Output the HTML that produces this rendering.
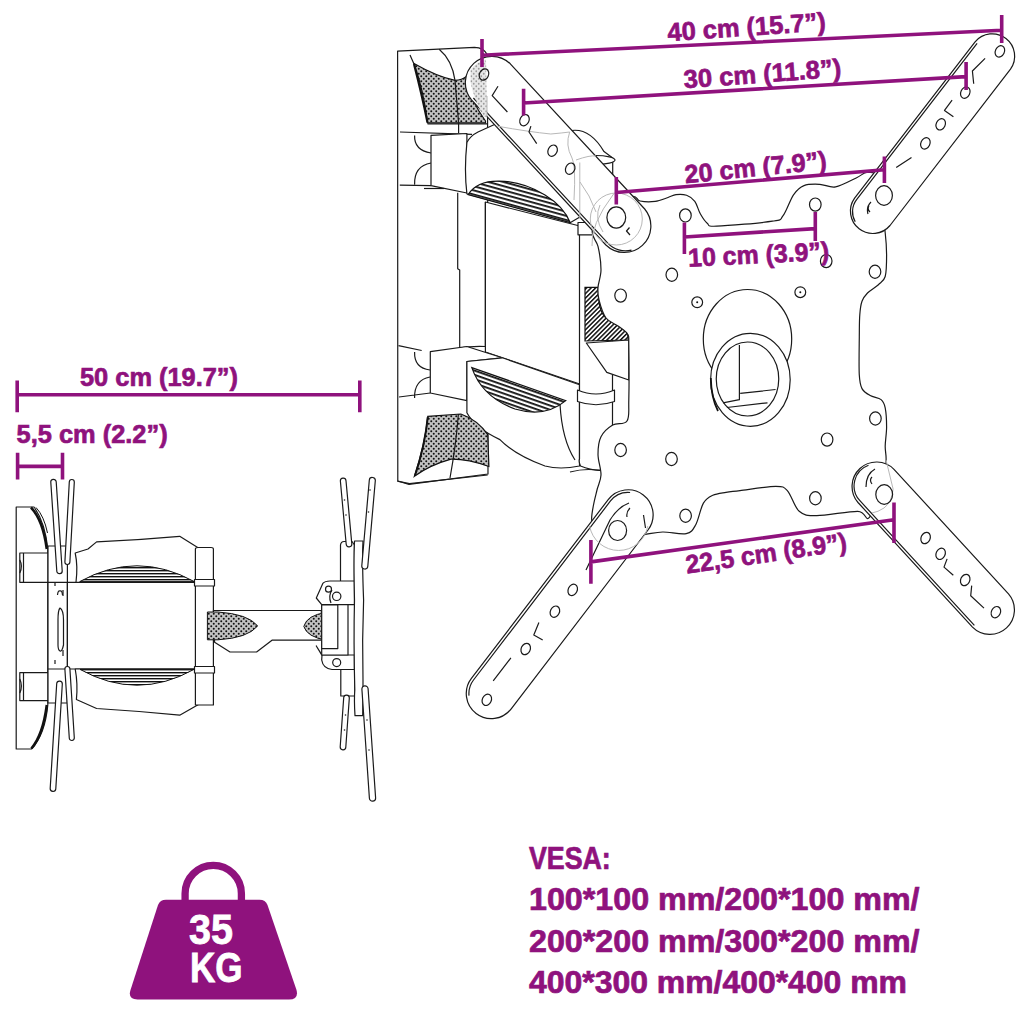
<!DOCTYPE html>
<html><head><meta charset="utf-8">
<style>
html,body{margin:0;padding:0;background:#fff;width:1024px;height:1024px;overflow:hidden}
svg{display:block}
.t{font-family:"Liberation Sans",sans-serif;font-weight:bold;fill:#8F127D;stroke:#8F127D;stroke-width:0.7}
.d{stroke:#8F127D;stroke-width:3.6;fill:none}
.k{stroke:#1a1a1a;stroke-width:1.2;fill:#fff;stroke-linejoin:round}
.kn{stroke:#1a1a1a;stroke-width:1.2;fill:none;stroke-linejoin:round}
.g{stroke:#b8b8b8;stroke-width:1;fill:none}
</style></head>
<body>
<svg width="1024" height="1024" viewBox="0 0 1024 1024">
<defs>
<pattern id="hz" width="4" height="3" patternUnits="userSpaceOnUse"><rect width="4" height="3" fill="#fff"/><rect width="4" height="1.4" fill="#111"/></pattern>
<pattern id="dg" width="3.2" height="3.2" patternUnits="userSpaceOnUse" patternTransform="rotate(45)"><rect width="3.2" height="3.2" fill="#fff"/><rect width="1.5" height="3.2" fill="#111"/></pattern>
<pattern id="mesh" width="5" height="5" patternUnits="userSpaceOnUse"><rect width="5" height="5" fill="#c2c2c2"/><circle cx="1.25" cy="1.25" r="1.0" fill="#111"/><circle cx="3.75" cy="3.75" r="1.0" fill="#111"/></pattern>
<pattern id="meshl" width="5" height="5" patternUnits="userSpaceOnUse"><rect width="5" height="5" fill="#e6e6e6"/><circle cx="1.25" cy="1.25" r="0.9" fill="#9a9a9a"/><circle cx="3.75" cy="3.75" r="0.9" fill="#9a9a9a"/></pattern>
<pattern id="hzd" width="6" height="4" patternUnits="userSpaceOnUse" patternTransform="rotate(15.4) translate(0,0.8)"><rect width="6" height="4" fill="#fff"/><rect width="6" height="1.8" fill="#111"/></pattern>
<pattern id="hzd2" width="6" height="4" patternUnits="userSpaceOnUse" patternTransform="rotate(19.3)"><rect width="6" height="4" fill="#fff"/><rect width="6" height="1.8" fill="#111"/></pattern>
</defs>


<!-- SIDE -->
<path class="k" d="M16.2,507 H34 Q45,522 47.8,549 V705 Q45,735 31.4,749 H16.2 Z"/>
<path d="M31,507.5 Q43,520 46.8,549" stroke="#111" stroke-width="2.6" fill="none"/>
<path d="M36,507.5 Q44,516 47.5,533" stroke="#111" stroke-width="1" fill="none"/>
<path d="M31.4,748.5 Q43,735 46.8,705" stroke="#111" stroke-width="2.6" fill="none"/>
<path class="k" d="M19.8,553 H48 V582.3 H19.8 Z"/>
<path class="kn" d="M23.5,553 V582.3 M19.8,560 Q23,566 19.8,573"/>
<path class="k" d="M19.8,672.6 H48 V700.6 H19.8 Z"/>
<path class="kn" d="M23.5,672.6 V700.6 M19.8,679 Q23,686 19.8,693"/>
<path class="k" d="M48,546 H67.4 V703 H48 Z"/>
<path class="kn" d="M60,608 Q63.5,610 63.5,620 V645 Q62,652 60,651 Q58,650 58,645 V620 Q58,610 60,608 Z"/>
<path class="kn" d="M57.5,595 Q58,590 60,591 Q62,590 62.5,595" stroke-width="0.9"/>
<path class="kn" d="M55,582 V586 M55,660 V664 M63,590 V596 M63,650 V656" stroke-width="1"/>
<path class="kn" d="M48,582.3 H67.4 M48,669 H67.4" stroke="#777"/>
<path class="kn" d="M67.4,582.3 H196 M67.4,669 H196"/>
<path class="kn" d="M67.4,582.3 V669" stroke="#888"/>
<path class="k" d="M75.2,553 Q78,566 76,582.3 H196.5 Q195,566 203.3,551 L179.7,536.3 Q138,540 96.6,541.9 L88,549 Z"/>
<path d="M79.7,581.6 Q137,550 194.3,581.6 Z" fill="url(#hz)" stroke="#111" stroke-width="1"/>
<path class="k" d="M75.2,669 Q78,684 76.4,699.5 L96.6,708.5 Q138,711 179.7,715.2 L203.3,701.8 Q195,686 196.5,669 Z"/>
<path d="M80,669.4 Q137,701 194,669.4 Z" fill="url(#hz)" stroke="#111" stroke-width="1"/>
<path class="k" d="M195.4,549 Q195.4,547.5 198,547.5 H211 Q213.4,547.5 213.4,549 V705 H195.4 Z"/>
<path class="k" d="M194.5,579.5 H214.5 V586 H194.5 Z"/>
<path class="k" d="M194.5,666.5 H214.5 V673 H194.5 Z"/>
<path class="k" d="M213.4,610.5 H321.3 V640.2 H272 L256.6,652 H230 L214.6,642.3 Z"/>
<path d="M207.4,612 H218 Q248,614 257.7,625.9 Q248,638 218,639.8 H207.4 Z" fill="url(#mesh)" stroke="#111" stroke-width="1"/>
<path d="M326.4,612.5 V640.2 Q307,637 303.8,626.4 Q307,615 326.4,612.5 Z" fill="url(#mesh)" stroke="#111" stroke-width="1"/>
<path class="k" d="M340.5,545 Q341,541.5 344,541.5 H352 L354.5,545 V582 H340.5 Z"/>
<path class="k" d="M316.3,598 L322.8,583.4 Q325,581 330,581 H354.5 V604.6 H321.7 Z"/>
<circle class="k" cx="336.7" cy="596.3" r="4.2"/><path class="kn" d="M331,603 Q328,596 332,590" stroke-width="1"/>
<circle class="kn" cx="328.5" cy="589.2" r="3"/>
<path class="k" d="M316.3,646 L322,655 L321.7,660 Q323,668.5 332,669.5 H354.5 V655 H321.7 Z"/>
<circle class="k" cx="336.7" cy="662.6" r="4"/>
<path class="k" d="M321.7,604.6 H348 V655 H321.7 Z"/>
<path class="k" d="M321.7,605 H337.8 V648.6 H321.7 Z"/>
<path class="k" d="M340.8,669.5 H354.8 V696 H340.8 Z"/>
<path class="k" d="M354.5,541 Q356,541 358,541 H363 Q362,560 363.6,600 Q362,640 363,680 Q363,700 362.7,715.6 H355 Q354,700 354.8,690 Q353.5,640 354.5,600 Q353.5,560 354.5,541 Z"/>
<path class="k" d="M340.4,481.3 L346.2,544.3 A2.8,2.8 0 0 0 351.8,543.7 L346.0,480.7 A2.8,2.8 0 0 0 340.4,481.3 Z"/>
<path class="k" d="M369.3,480.2 L361.8,565.7 A3.0,3.0 0 0 0 367.8,566.3 L375.3,480.8 A3.0,3.0 0 0 0 369.3,480.2 Z"/>
<path class="k" d="M343.7,697.8 L340.2,746.8 A2.8,2.8 0 0 0 345.8,747.2 L349.3,698.2 A2.8,2.8 0 0 0 343.7,697.8 Z"/>
<path class="k" d="M361.9,689.2 L369.4,798.2 A3.1,3.1 0 0 0 375.6,797.8 L368.1,688.8 A3.1,3.1 0 0 0 361.9,689.2 Z"/>
<path class="k" d="M50.8,482.2 L56.8,571.2 A2.7,2.7 0 0 0 62.2,570.8 L56.2,481.8 A2.7,2.7 0 0 0 50.8,482.2 Z"/>
<path class="k" d="M69.3,481.9 L64.9,561.9 A2.5,2.5 0 0 0 69.9,562.1 L74.3,482.1 A2.5,2.5 0 0 0 69.3,481.9 Z"/>
<path class="k" d="M56.7,683.8 L50.2,788.3 A2.8,2.8 0 0 0 55.8,788.7 L62.3,684.2 A2.8,2.8 0 0 0 56.7,683.8 Z"/>
<path class="k" d="M64.9,669.2 L69.3,738.2 A2.5,2.5 0 0 0 74.3,737.8 L69.9,668.8 A2.5,2.5 0 0 0 64.9,669.2 Z"/>
<circle cx="344.5" cy="500" r="0.8" fill="#222"/><circle cx="346" cy="515" r="0.8" fill="#222"/><circle cx="370" cy="490" r="0.8" fill="#222"/><circle cx="368.5" cy="512" r="0.8" fill="#222"/>
<circle cx="345.5" cy="715" r="0.8" fill="#222"/><circle cx="344.5" cy="730" r="0.8" fill="#222"/><circle cx="367" cy="720" r="0.8" fill="#222"/><circle cx="369" cy="750" r="0.8" fill="#222"/>
<!-- FRONT -->
<path class="k" d="M397.6,51.2 L474.4,47.3 Q484,47.5 487.5,55 L488,474 L409,484.3 L397.8,481 Z"/>
<path d="M414,63.4 Q436,76 455,80.4 Q462,80 466.4,76.5 Q470,100 485.5,121 L485.5,122.8 L427.5,122.8 Q424,92 414,63.4 Z" fill="url(#mesh)" stroke="#111" stroke-width="1.2"/>
<path d="M414,64 Q422,95 427.5,122.5" stroke="#111" stroke-width="2.2" fill="none"/>
<path class="kn" d="M455,80.4 L458.6,122.8 M439.2,49.3 Q452,60 455,80.4 M410,55 L414,64"/>
<path class="kn" d="M400,132 L472,134.3 M427.5,123.8 H487 M458.6,122.8 V133"/>
<path class="kn" d="M399.8,185.2 L431,185.6 M414.6,135.4 Q414,150 431,153 M414.6,184.5 Q414,166 431,163"/>
<path class="k" d="M431,135.4 L466.9,133.5 L466.9,193 L431,185.6 Z"/>
<path class="kn" d="M424,188.5 H444"/>
<path class="k" d="M466.9,142.6 Q470,136 478,132 L500,122 L585,214 L570.5,222.5 L466.9,193.8 Q464,170 466.9,142.6 Z"/>
<path d="M468.2,194.6 C474,185 486,181 498.7,181.1 C515,181 532,187 545,195 C558,203 566,212 570.2,222.7 Z" fill="url(#hzd)" stroke="#111" stroke-width="1.2"/>
<path class="kn" d="M457.7,192.8 V268.7 L459.7,270 V348 M485.4,202 V346.5"/>
<path class="kn" d="M398.5,345.6 L421.7,350.5 M459.7,348 Q470,346 485.4,346.5"/>
<path class="k" d="M485.4,202 L579.7,226 V384 L485.4,352 Z"/>
<path class="k" d="M430.3,351.7 L466.9,346.5 L502.3,357.8 L466.9,361.5 V400.6 L430.3,393 Z"/>
<path class="kn" d="M414.6,352 Q414,368 430,370 M414.6,398 Q414,380 430,377 M399,397 L430.3,393"/>
<path class="k" d="M466.9,361.5 L502.3,357.8 L579.5,384.7 V466 Q560,470 545,466 Q515,455 499.9,439.6 Q475,428 466.9,412.8 Z"/>
<path d="M471.8,367.6 L565.8,400.6 Q545,418 515,409 Q482,397 471.8,367.6 Z" fill="url(#hzd2)" stroke="#111" stroke-width="1.2"/>
<path class="kn" d="M560,404 Q562,440 575,460"/>
<path d="M427.8,416.4 L460.8,414 Q478,420 487.7,434.7 L488.9,466.5 Q468,459 451,459.2 Q430,465 414.4,476.3 Q425,445 427.8,416.4 Z" fill="url(#mesh)" stroke="#111" stroke-width="1.2"/>
<path d="M427.8,417 Q425,445 415,475.8" stroke="#111" stroke-width="2" fill="none"/>
<path class="kn" d="M458.4,414 Q456,445 450,478 M397.3,481.1 L409.5,483.6 L487.7,475"/>
<path class="k" d="M579.5,226 H612.5 V462 L600,470.4 Q590,470 580.5,466 Q578.5,462 579.5,459 Z"/>
<path class="k" d="M578,222.5 H596 V234.8 H578 Z"/>
<path class="k" d="M571.5,130.5 Q590,128 604,151.6 L612.7,158 V200 L579,200 Z" />
<ellipse class="k" cx="595.5" cy="160" rx="19.5" ry="4.5"/>
<path d="M585,287.4 H598 C598.5,300 599,312 606,318 C614,323 624,326 627.5,334 L628.5,340 L585,341 Z" fill="url(#dg)" stroke="#111" stroke-width="1.2"/>
<path class="k" d="M586.3,343 L628.8,340 V380 L606.8,372.4 Z"/>
<path class="k" d="M577.5,390 Q596,398 614.5,390 V401.5 Q596,408 577.5,401.5 Z"/>
<path class="kn" d="M570,472 Q585,468 600,470.4"/>
<path class="k" d="M631.3,196.5 C638.0,195.0 636.0,200.2 640.0,201.0 C644.0,201.8 650.5,202.0 655.2,201.4 C659.9,200.8 664.5,198.6 668.0,197.5 C671.5,196.4 672.9,195.0 676.0,194.6 C679.1,194.2 683.5,194.2 686.6,195.3 C689.7,196.4 692.5,198.3 694.8,201.4 C697.1,204.5 698.2,210.1 700.3,213.8 C702.4,217.4 704.5,221.2 707.2,223.3 C709.9,225.4 705.8,226.5 716.7,226.2 C727.6,225.8 761.4,222.9 772.4,221.2 C783.4,219.5 779.4,220.3 782.9,215.9 C786.4,211.5 790.0,199.9 793.5,194.8 C797.0,189.8 799.6,187.3 804.0,185.6 C808.4,183.8 814.5,184.1 819.8,184.3 C825.1,184.5 829.5,188.0 835.6,186.9 C841.8,185.8 851.4,180.1 856.7,177.7 C862.0,175.3 863.8,172.0 867.3,172.4 C870.8,172.8 875.0,169.9 878.0,180.0 C881.0,190.1 883.8,220.4 885.2,232.8 C886.6,245.2 886.6,247.4 886.6,254.7 C886.6,262.0 886.6,271.5 885.2,276.5 C883.8,281.5 881.4,281.9 878.4,284.7 C875.4,287.4 870.2,290.2 867.5,293.0 C864.8,295.8 863.3,297.6 862.0,301.2 C860.7,304.8 860.2,308.9 859.8,314.8 C859.3,320.7 859.4,326.7 859.3,336.7 C859.2,346.7 858.8,366.4 859.3,375.0 C859.8,383.6 860.2,385.2 862.0,388.6 C863.8,392.0 867.0,393.7 870.2,395.5 C873.4,397.3 878.6,397.6 881.1,399.6 C883.6,401.7 884.3,403.2 885.2,407.8 C886.1,412.4 886.6,420.5 886.6,426.9 C886.6,433.3 885.3,440.5 885.2,446.0 C885.1,451.5 886.3,454.0 886.1,459.7 C885.9,465.4 886.8,470.4 884.0,480.0 C881.2,489.6 874.0,512.0 869.6,517.2 C865.2,522.4 866.6,511.6 857.8,511.3 C849.0,511.1 826.6,515.7 816.8,515.7 C807.0,515.7 804.1,515.5 799.2,511.3 C794.3,507.1 791.4,495.0 787.5,490.8 C783.6,486.6 783.7,486.4 775.8,486.4 C767.9,486.4 748.3,489.6 740.0,490.6 C731.7,491.6 730.5,491.5 726.0,492.3 C721.5,493.1 716.6,493.5 712.8,495.3 C709.0,497.1 706.3,498.2 703.4,503.1 C700.5,508.1 698.5,519.9 695.6,525.0 C692.7,530.1 691.7,532.4 686.2,533.6 C680.8,534.8 669.6,531.9 662.8,532.0 C656.0,532.1 651.4,533.6 645.6,534.4 C639.8,535.2 636.3,537.4 628.0,537.0 C619.7,536.6 602.0,534.8 596.0,532.0 C590.0,529.2 592.1,524.5 591.7,520.0 C591.3,515.5 592.6,510.0 593.5,505.0 C594.4,500.0 595.8,495.0 597.0,490.0 C598.2,485.0 600.8,480.9 601.0,475.0 C601.2,469.1 598.0,460.8 598.0,454.4 C598.0,448.0 598.5,441.7 601.0,436.8 C603.5,431.9 608.4,427.7 612.7,425.1 C617.0,422.5 624.3,425.2 627.0,421.0 C629.7,416.8 628.5,412.7 628.8,400.0 C629.1,387.3 629.0,356.0 628.8,345.0 C628.6,334.0 629.3,337.2 627.5,334.0 C625.7,330.8 621.6,328.7 618.0,326.0 C614.4,323.3 609.2,322.3 606.0,318.0 C602.8,313.7 600.3,305.1 599.0,300.0 C597.7,294.9 597.7,292.4 598.0,287.4 C598.3,282.4 601.0,276.6 601.0,269.8 C601.0,263.0 599.5,252.8 598.0,246.4 C596.5,240.1 591.9,237.8 592.2,231.7 C592.5,225.6 593.5,215.9 600.0,210.0 C606.5,204.1 624.6,198.0 631.3,196.5 Z"/>
<ellipse class="kn" cx="685.4" cy="215.4" rx="5.8" ry="6.6"/>
<ellipse class="kn" cx="815.3" cy="204.6" rx="5.8" ry="6.6"/>
<ellipse class="kn" cx="671.8" cy="274.8" rx="5.8" ry="6.6"/>
<ellipse class="kn" cx="620.6" cy="295.6" rx="5.8" ry="6.6"/>
<ellipse class="kn" cx="826.2" cy="261.1" rx="5.8" ry="6.6"/>
<ellipse class="kn" cx="875" cy="271.7" rx="5.8" ry="6.6"/>
<ellipse class="kn" cx="620.6" cy="450" rx="5.8" ry="6.6"/>
<ellipse class="kn" cx="671.5" cy="459" rx="5.8" ry="6.6"/>
<ellipse class="kn" cx="827.1" cy="439.6" rx="5.8" ry="6.6"/>
<ellipse class="kn" cx="875.4" cy="418.5" rx="5.8" ry="6.6"/>
<ellipse class="kn" cx="685.6" cy="515.7" rx="5.8" ry="6.6"/>
<ellipse class="kn" cx="815.4" cy="498.2" rx="5.8" ry="6.6"/>
<circle class="kn" cx="697.2" cy="302.3" r="5.4"/><circle cx="697.2" cy="302.3" r="1" fill="#111"/>
<circle class="kn" cx="800.3" cy="292.2" r="5.4"/><circle cx="800.3" cy="292.2" r="1" fill="#111"/>
<ellipse class="kn" cx="747.5" cy="339" rx="44.2" ry="49.5"/>
<ellipse class="k" cx="750.4" cy="379.8" rx="39.8" ry="46.5" stroke-width="1.4"/>
<ellipse class="k" cx="747.5" cy="379" rx="31.25" ry="37" stroke-width="1.4"/>
<path class="kn" d="M739.4,345 V399.7 L723,402.8 M740.2,393.4 L775.6,389.5 M726.9,407.5 L767.5,402.8"/>
<path d="M710.8,378 Q711.2,398 718,411" stroke="#111" stroke-width="1.8" fill="none"/>
<path class="k" d="M471.5,99.8 L605.9,245.0 A26.5,26.5 0 0 0 644.7,209.0 L510.3,63.8 A26.5,26.5 0 0 0 471.5,99.8 Z" stroke-width="1.05" stroke="#3a3a3a"/>
<path class="kn" d="M473.4,98.0 L607.8,243.2 A23.9,23.9 0 0 0 631.5,250.1" stroke-width="0.95" stroke="#3a3a3a"/>
<path class="k" d="M975.1,41.8 L854.6,198.1 A22.4,22.4 0 0 0 890.0,225.5 L1010.5,69.2 A22.4,22.4 0 0 0 975.1,41.8 Z" stroke-width="1.05" stroke="#3a3a3a"/>
<path class="kn" d="M977.1,43.4 L856.6,199.7 A19.8,19.8 0 0 0 855.2,221.7" stroke-width="0.95" stroke="#3a3a3a"/>
<path class="k" d="M1008.5,593.9 L894.0,469.3 A24.5,24.5 0 0 0 858.0,502.5 L972.5,627.1 A24.5,24.5 0 0 0 1008.5,593.9 Z" stroke-width="1.05" stroke="#3a3a3a"/>
<path class="kn" d="M974.4,625.3 L859.9,500.7 A21.9,21.9 0 0 1 868.5,465.3" stroke-width="0.95" stroke="#3a3a3a"/>
<path class="k" d="M511.2,708.8 L648.0,530.0 A25,25 0 0 0 608.2,499.6 L471.4,678.4 A25,25 0 0 0 511.2,708.8 Z" stroke-width="1.05" stroke="#3a3a3a"/>
<path class="kn" d="M469.0,695.6 A22.4,22.4 0 0 1 473.5,680.0 L610.3,501.2 A22.4,22.4 0 0 1 630.1,492.5" stroke-width="0.95" stroke="#3a3a3a"/>
<path class="kn" d="M586,570 Q598,545 610,520 Q618,507 629,503" stroke-width="1"/>
<path class="g" d="M589.65,526.1 A29.5,29.5 0 0 0 647.75,526.1 M886.1,460.2 L893.1,489 Q892,502 884,508 Q878,512 872,513"/>
<path d="M470.5,70 Q476,62 486,59.5 L487,117 L484,117 Q474,100 470.5,82 Z" fill="url(#meshl)"/>
<path class="g" d="M496.9,126.1 Q530,132 550.8,134 Q562,133 569.7,132 M569.7,132 Q565,145 572,158 Q576,165 574,200 M579.8,162.5 V218.8 M580,182 Q590,195 596,212 M576,160 Q590,155 596,156 M592,246 Q590,225 613.6,194"/>
<path class="g" d="M603,232 Q594,218 600,205 M487,96 V116"/>
<path class="kn" d="M498.0,86.2 L492.2,95.6 L507.4,112.0" stroke-width="1"/>
<path class="kn" d="M530.9,126.1 L529.0,132.0 L536.7,143.7" stroke-width="1"/>
<path class="kn" d="M985.1,58.3 L972.4,71.0 L973.7,83.7" stroke-width="1"/>
<path class="kn" d="M952.1,100.2 L944.5,110.4 L953.4,116.7" stroke-width="1"/>
<path class="kn" d="M947.1,558.9 L944.0,567.1 L953.3,575.3" stroke-width="1"/>
<path class="kn" d="M971.7,585.6 L970.7,595.8 L984.0,608.1" stroke-width="1"/>
<path class="kn" d="M538.9,622.4 L533.8,635.0 L542.7,640.1" stroke-width="1"/>
<path class="kn" d="M510.9,657.9 L493.2,680.8 M911.5,157.4 L896.2,167.5" stroke-width="1"/>
<path class="kn" d="M629.5,227.5 L626.5,231 L630,235 M871,202 Q866,207 868,214 M869,206 Q867,209 870,212 M875,469 Q866,474 866,487 M872,477 Q869,480 872,484 M630,508 Q626,512 627,517 M643.5,515 L645.5,528" stroke-width="0.9"/>
<circle class="g" cx="616.3" cy="219" r="26"/>
<ellipse class="kn" cx="616.3" cy="217.5" rx="9.4" ry="10.6" stroke-width="1.3"/>
<ellipse class="kn" cx="884" cy="195.5" rx="8.4" ry="9.8" stroke-width="1.3"/>
<ellipse class="kn" cx="884.2" cy="494.5" rx="8.4" ry="9.8" stroke-width="1.3"/>
<ellipse class="kn" cx="617.6" cy="530.5" rx="9" ry="10" stroke-width="1.3"/>
<ellipse class="kn" cx="484" cy="74.5" rx="4.5" ry="5.9" transform="rotate(25 484 74.5)" stroke="#333"/>
<ellipse class="kn" cx="524.5" cy="120.2" rx="4.5" ry="5.9" transform="rotate(25 524.5 120.2)" stroke="#333"/>
<ellipse class="kn" cx="552.6" cy="150.7" rx="4.5" ry="5.9" transform="rotate(25 552.6 150.7)" stroke="#333"/>
<ellipse class="kn" cx="570.2" cy="168.7" rx="4.5" ry="5.9" transform="rotate(25 570.2 168.7)" stroke="#333"/>
<ellipse class="kn" cx="999.9" cy="51.4" rx="4.5" ry="5.9" transform="rotate(25 999.9 51.4)" stroke="#333"/>
<ellipse class="kn" cx="965.3" cy="92.6" rx="4.5" ry="5.9" transform="rotate(25 965.3 92.6)" stroke="#333"/>
<ellipse class="kn" cx="940.7" cy="124.3" rx="4.5" ry="5.9" transform="rotate(25 940.7 124.3)" stroke="#333"/>
<ellipse class="kn" cx="925.4" cy="143.4" rx="4.5" ry="5.9" transform="rotate(25 925.4 143.4)" stroke="#333"/>
<ellipse class="kn" cx="925.6" cy="538" rx="4.5" ry="5.9" transform="rotate(25 925.6 538)" stroke="#333"/>
<ellipse class="kn" cx="940.6" cy="553.8" rx="4.5" ry="5.9" transform="rotate(25 940.6 553.8)" stroke="#333"/>
<ellipse class="kn" cx="965.2" cy="580" rx="4.5" ry="5.9" transform="rotate(25 965.2 580)" stroke="#333"/>
<ellipse class="kn" cx="995.9" cy="612.2" rx="4.5" ry="5.9" transform="rotate(25 995.9 612.2)" stroke="#333"/>
<ellipse class="kn" cx="572.7" cy="589.9" rx="4.5" ry="5.9" transform="rotate(25 572.7 589.9)" stroke="#333"/>
<ellipse class="kn" cx="554.9" cy="611.7" rx="4.5" ry="5.9" transform="rotate(25 554.9 611.7)" stroke="#333"/>
<ellipse class="kn" cx="525.7" cy="649" rx="4.5" ry="5.9" transform="rotate(25 525.7 649)" stroke="#333"/>
<ellipse class="kn" cx="486.8" cy="699.8" rx="4.5" ry="5.9" transform="rotate(25 486.8 699.8)" stroke="#333"/>


<!-- DIMENSIONS -->
<g class="d">
<path d="M17.2,394.8H359.8M17.2,380.5V412.3M359.8,380.5V412.3"/>
<path d="M17.6,466.4H62.5M17.6,452.8V479.5M62.5,452.8V479.5"/>
<path d="M482,55.2L1001.7,30.3M482,39V67M1001.7,15V43"/>
<path d="M523.6,103L966.1,76.6M523.6,88.8V115.4M966.1,62V90"/>
<path d="M616.3,192.5L884.4,169.8M616.3,177V204.5M884.4,156.6V183"/>
<path d="M684.4,237L815.3,228.6M684.4,222.5V254.1M815.3,212V241"/>
<path d="M590.9,561.9L894,519.7M590.9,540V583.7M894,502.5V543"/>
</g>
<g class="t" font-size="25.6">
<text x="80" y="386.4" textLength="158" lengthAdjust="spacingAndGlyphs">50 cm (19.7”)</text>
<text x="16.6" y="443" textLength="151" lengthAdjust="spacingAndGlyphs">5,5 cm (2.2”)</text>
<text x="668" y="41.3" textLength="158.6" lengthAdjust="spacingAndGlyphs" transform="rotate(-4 668 41.3)">40 cm (15.7”)</text>
<text x="684.2" y="88.3" textLength="158" lengthAdjust="spacingAndGlyphs" transform="rotate(-4.2 684.2 88.3)">30 cm (11.8”)</text>
<text x="685.5" y="183.3" textLength="142.5" lengthAdjust="spacingAndGlyphs" transform="rotate(-5.8 685.5 183.3)">20 cm (7.9”)</text>
<text x="688.6" y="266.8" textLength="141" lengthAdjust="spacingAndGlyphs" transform="rotate(-2.9 688.6 266.8)">10 cm (3.9”)</text>
<text x="687" y="573.6" textLength="162.5" lengthAdjust="spacingAndGlyphs" transform="rotate(-8.2 687 573.6)">22,5 cm (8.9”)</text>
</g>

<!-- WEIGHT -->
<g fill="#8F127D">
<path d="M185.1,903 V893.6 A28.15,28.15 0 0 1 241.4,893.6 V903" fill="none" stroke="#8F127D" stroke-width="7.3"/>
<path d="M166,899.8 H259.5 Q265.5,899.8 267.5,905 L296.5,990 Q299,999.4 289,999.4 H137.5 Q127.5,999.4 130.5,990 L158,905 Q160,899.8 166,899.8 Z"/>
</g>
<g fill="#fff" stroke="#fff" stroke-width="0.8" font-family="Liberation Sans" font-weight="bold" font-size="42.5">
<text x="189" y="943.7" textLength="44" lengthAdjust="spacingAndGlyphs">35</text>
<text x="190" y="981.8" textLength="52.6" lengthAdjust="spacingAndGlyphs">KG</text>
</g>

<!-- VESA -->
<g class="t" font-size="30.5">
<text x="528.9" y="868.6" textLength="81.9" lengthAdjust="spacingAndGlyphs">VESA:</text>
<text x="529" y="910" textLength="390.5" lengthAdjust="spacingAndGlyphs">100*100 mm/200*100 mm/</text>
<text x="529" y="951.6" textLength="390.5" lengthAdjust="spacingAndGlyphs">200*200 mm/300*200 mm/</text>
<text x="529" y="993" textLength="378" lengthAdjust="spacingAndGlyphs">400*300 mm/400*400 mm</text>
</g>
</svg>
</body></html>
